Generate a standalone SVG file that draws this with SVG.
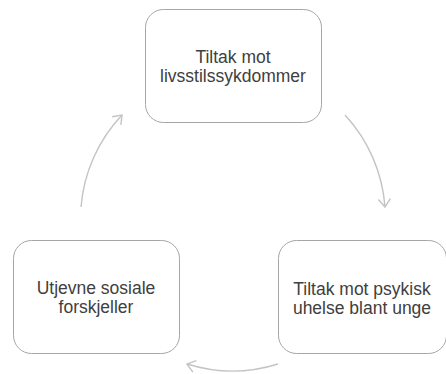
<svg xmlns="http://www.w3.org/2000/svg" width="446" height="374" viewBox="0 0 446 374">
<defs>
<style>
.box{fill:#ffffff;stroke:#a6a6a6;stroke-width:1}
.lbl{font-family:"Liberation Sans",Arial,sans-serif;font-size:17.5px;fill:#404040;text-anchor:middle}
.arc{fill:none;stroke:#c4c4c4;stroke-width:1.4}
</style>
<marker id="ah" markerUnits="userSpaceOnUse" markerWidth="20" markerHeight="20" viewBox="-10 -10 20 20" refX="0" refY="0" orient="auto">
<path d="M -8 -6 L 0 0 L -8 6" fill="none" stroke="#c4c4c4" stroke-width="1.4"/>
</marker>
</defs>
<rect width="446" height="374" fill="#ffffff"/>
<g id="connectors">
<path class="arc" d="M 345 115 A 152 152 0 0 1 385 207" marker-end="url(#ah)"/>
<path class="arc" d="M 278 364 A 152 152 0 0 1 187 364" marker-end="url(#ah)"/>
<path class="arc" d="M 81 207 A 152 152 0 0 1 122 115" marker-end="url(#ah)"/>
</g>
<g id="node-top">
<rect class="box" x="145.5" y="9.5" width="176" height="113" rx="18"/>
<text class="lbl" x="233" y="63">Tiltak mot</text>
<text class="lbl" x="233" y="82">livsstilssykdommer</text>
</g>
<g id="node-right">
<rect class="box" x="278.5" y="240.5" width="168" height="113" rx="18"/>
<text class="lbl" x="362" y="295">Tiltak mot psykisk</text>
<text class="lbl" x="362" y="314">uhelse blant unge</text>
</g>
<g id="node-left">
<rect class="box" x="13.5" y="240.5" width="166" height="113" rx="18"/>
<text class="lbl" x="96" y="294">Utjevne sosiale</text>
<text class="lbl" x="96" y="313">forskjeller</text>
</g>
</svg>
